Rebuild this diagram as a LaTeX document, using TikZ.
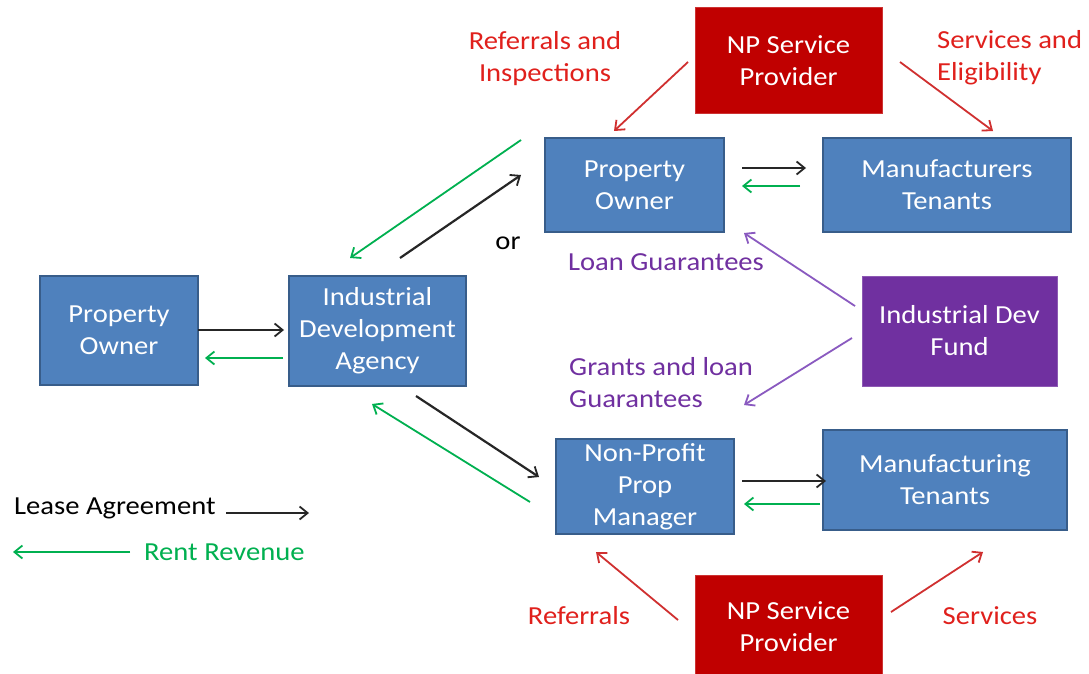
\documentclass[tikz,border=0pt]{standalone}
\usepackage{fontspec}
\setmainfont{Carlito}[FakeStretch=1.1]
\usetikzlibrary{arrows.meta}
\definecolor{boxblue}{HTML}{4F81BD}
\definecolor{boxedge}{HTML}{385D8A}
\definecolor{npred}{HTML}{C00000}
\definecolor{fundpurple}{HTML}{7030A0}
\definecolor{rentgreen}{HTML}{00B050}
\definecolor{labred}{HTML}{E0201C}
\definecolor{arrred}{HTML}{D03030}
\definecolor{labpurple}{HTML}{7030A0}
\definecolor{arrpurple}{HTML}{8A5AC0}
\tikzset{
  txt/.style={font=\fontsize{26}{32}\selectfont},
  bluebox/.style={txt, fill=boxblue, draw=boxedge, line width=1.2pt, text=white, align=center, inner sep=0pt},
  redbox/.style={txt, fill=npred, draw=npred!80!white, line width=1pt, text=white, align=center, inner sep=0pt},
  purplebox/.style={txt, fill=fundpurple, draw=fundpurple!80!white, line width=1pt, text=white, align=center, inner sep=0pt},
  lbl/.style={txt, align=left, inner sep=0pt},
  tip/.style={-{Straight Barb[length=8pt,width=13pt,line width=1.8pt]}},
  lease/.style={tip, black!85, line width=2.2pt},
  rent/.style={tip, rentgreen, line width=1.8pt},
  svc/.style={tip, arrred, line width=1.8pt},
  fund/.style={tip, arrpurple, line width=1.8pt},
}
\begin{document}
\begin{tikzpicture}[x=1pt,y=-1pt]
\useasboundingbox[fill=white] (0,0) rectangle (1089,674);

% boxes
\node[bluebox, minimum width=158, minimum height=109] (po1) at (119,330.5) {Property\\Owner};
\node[bluebox, minimum width=177, minimum height=110] (ida) at (377.5,331) {Industrial\\Development\\Agency};
\node[bluebox, minimum width=179, minimum height=94] (po2) at (634.5,185) {Property\\Owner};
\node[bluebox, minimum width=248, minimum height=94] (mt) at (947,185) {Manufacturers\\Tenants};
\node[redbox, minimum width=187, minimum height=106] (npt) at (788.5,61) {NP Service\\Provider};
\node[purplebox, minimum width=195, minimum height=110] (idf) at (959.5,331) {Industrial Dev\\Fund};
\node[bluebox, minimum width=178, minimum height=95] (nppm) at (645,486.5) {Non-Profit\\Prop\\Manager};
\node[bluebox, minimum width=244, minimum height=100] (mft) at (945,480) {Manufacturing\\Tenants};
\node[redbox, minimum width=187, minimum height=102, anchor=north] (npb) at (788.5,575) {NP Service\\Provider};

% arrow end points
\coordinate (a1s) at (198,330); \coordinate (a1e) at (284,330);
\coordinate (g1s) at (283,358); \coordinate (g1e) at (205,358);
\coordinate (a2s) at (400,258); \coordinate (a2e) at (521,175);
\coordinate (g2s) at (521,140); \coordinate (g2e) at (350,258);
\coordinate (a3s) at (742,168); \coordinate (a3e) at (806,168);
\coordinate (g3s) at (800,186); \coordinate (g3e) at (742,186);
\coordinate (r1s) at (688,62);  \coordinate (r1e) at (614,131);
\coordinate (r2s) at (900,62);  \coordinate (r2e) at (993,131);
\coordinate (p1s) at (855,306); \coordinate (p1e) at (744,233);
\coordinate (p2s) at (852,338); \coordinate (p2e) at (744,405);
\coordinate (a4s) at (416,396); \coordinate (a4e) at (539,477);
\coordinate (g4s) at (530,502); \coordinate (g4e) at (372,404);
\coordinate (a5s) at (742,481); \coordinate (a5e) at (826,481);
\coordinate (g5s) at (820,504); \coordinate (g5e) at (744,504);
\coordinate (r3s) at (678,620); \coordinate (r3e) at (596,552);
\coordinate (r4s) at (891,612); \coordinate (r4e) at (983,552);
\coordinate (la1) at (226,513); \coordinate (la2) at (309,513);
\coordinate (lr1) at (130,552); \coordinate (lr2) at (13,552);

% connectors
\draw[lease] (a1s) -- (a1e);
\draw[rent] (g1s) -- (g1e);
\draw[lease] (a2s) -- (a2e);
\draw[rent] (g2s) -- (g2e);
\draw[lease] (a3s) -- (a3e);
\draw[rent] (g3s) -- (g3e);
\draw[svc] (r1s) -- (r1e);
\draw[svc] (r2s) -- (r2e);
\draw[fund] (p1s) -- (p1e);
\draw[fund] (p2s) -- (p2e);
\draw[lease] (a4s) -- (a4e);
\draw[rent] (g4s) -- (g4e);
\draw[lease] (a5s) -- (a5e);
\draw[rent] (g5s) -- (g5e);
\draw[svc] (r3s) -- (r3e);
\draw[svc] (r4s) -- (r4e);
\draw[lease] (la1) -- (la2);
\draw[rent] (lr1) -- (lr2);

% labels
\node[lbl, text=labred, align=center] (lb1) at (545,59) {Referrals and\\Inspections};
\node[lbl, text=labred, anchor=west] (lb2) at (937,58) {Services and\\Eligibility};
\node[lbl, text=black] (lbor) at (508,243) {or};
\node[lbl, text=labpurple] (lb3) at (666,262) {Loan Guarantees};
\node[lbl, text=labpurple, anchor=west] (lb4) at (569,383) {Grants and loan\\Guarantees};
\node[lbl, text=labred] (lb5) at (579,616) {Referrals};
\node[lbl, text=labred] (lb6) at (990,616) {Services};
\node[lbl, text=black, anchor=west] (lb7) at (14,508) {Lease Agreement};
\node[lbl, text=rentgreen, anchor=west] (lb8) at (144,552) {Rent Revenue};
\end{tikzpicture}
\end{document}
